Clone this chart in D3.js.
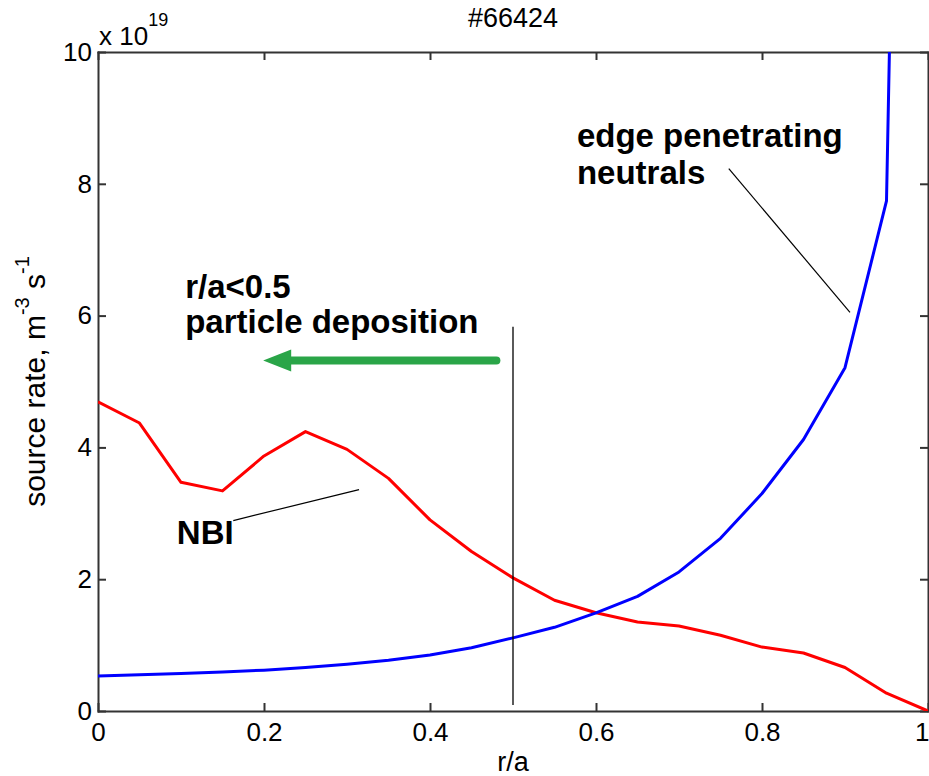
<!DOCTYPE html>
<html>
<head>
<meta charset="utf-8">
<script src="https://cdn.jsdelivr.net/npm/d3@7"></script>
<style>
  body { margin: 0; background: #fff; }
  svg { display: block; font-family: "Liberation Sans", Arial, Helvetica, sans-serif; }
  .axis path, .axis line { stroke: #333; stroke-width: 2px; }
  .axis text { font-size: 26px; fill: #000; }
  .note { font-size: 33px; font-weight: bold; fill: #000; }
</style>
</head>
<body>
<div id="chart"></div>
<script>
// radial grid r/a and source profiles (units of 1e19 m^-3 s^-1)
const ra = [0, 0.05, 0.1, 0.15, 0.2, 0.25, 0.3, 0.35, 0.4, 0.45, 0.5,
            0.55, 0.6, 0.65, 0.7, 0.75, 0.8, 0.85, 0.9, 0.95, 1];
const nbiSource = [4.69, 4.37, 3.47, 3.34, 3.87, 4.24, 3.97, 3.53, 2.90, 2.42, 2.02,
                   1.68, 1.49, 1.35, 1.29, 1.15, 0.97, 0.88, 0.66, 0.27, 0];
const edgeSource = [0.53, 0.55, 0.57, 0.59, 0.62, 0.66, 0.71, 0.77, 0.85, 0.96, 1.11,
                    1.27, 1.49, 1.74, 2.11, 2.62, 3.30, 4.12, 5.21, 7.74, 40];

const xTicks = [0, 0.2, 0.4, 0.6, 0.8, 1];
const yTicks = [0, 2, 4, 6, 8, 10];
const shotTitle = '#66424';

// annotations, placed in data space
const boundaryR = 0.5;
const boundarySpan = [0.09, 5.83];
const arrowFrom = [0.48, 5.32], arrowTo = [0.199, 5.32];
const nbiLeader = [[0.163, 2.89], [0.3145, 3.36]];
const edgeLeader = [[0.76, 8.23], [0.906, 6.05]];
const notes = [
  { text: 'r/a<0.5', r: 0.105, v: 6.27 },
  { text: 'particle deposition', r: 0.105, v: 5.74 },
  { text: 'NBI', r: 0.095, v: 2.53 },
  { text: 'edge penetrating', r: 0.577, v: 8.56 },
  { text: 'neutrals', r: 0.577, v: 8.0 }
];

const width = 929, height = 776;
const margin = { top: 52, right: 1, bottom: 65, left: 98 };

const svg = d3.select('#chart').append('svg')
  .attr('width', width)
  .attr('height', height);

const x = d3.scaleLinear().domain([0, 1]).range([margin.left, width - margin.right]);
const y = d3.scaleLinear().domain([0, 10]).range([height - margin.bottom, margin.top]);

svg.append('clipPath').attr('id', 'plot-clip')
  .append('rect')
  .attr('x', x(0)).attr('y', y(10))
  .attr('width', x(1) - x(0)).attr('height', y(0) - y(10));

// axes: matlab style box, ticks pointing inwards on every side
const fmt = d => d3.format('~g')(d);
const xAxis = svg.append('g').attr('class', 'axis')
  .attr('transform', `translate(0,${y(0)})`)
  .call(d3.axisBottom(x).tickValues(xTicks).tickFormat(fmt).tickSizeInner(-8).tickSizeOuter(0).tickPadding(12));
// last label sits on the window edge, keep it inside
xAxis.selectAll('.tick text').filter(d => d === 1)
  .attr('text-anchor', 'end').attr('x', 1);
svg.append('g').attr('class', 'axis')
  .attr('transform', `translate(0,${y(10)})`)
  .call(d3.axisTop(x).tickValues(xTicks).tickFormat('').tickSizeInner(-8).tickSizeOuter(0));
svg.append('g').attr('class', 'axis')
  .attr('transform', `translate(${x(0)},0)`)
  .call(d3.axisLeft(y).tickValues(yTicks).tickFormat(fmt).tickSizeInner(-8).tickSizeOuter(0).tickPadding(6));
svg.append('g').attr('class', 'axis')
  .attr('transform', `translate(${x(1)},0)`)
  .call(d3.axisRight(y).tickValues(yTicks).tickFormat('').tickSizeInner(-8).tickSizeOuter(0));
svg.selectAll('.axis .domain').attr('stroke-linecap', 'square');

// exponent above the y axis
const expo = svg.append('text')
  .attr('x', x(0) + 1).attr('y', 45)
  .attr('font-size', 26);
expo.append('tspan').text('x 10');
expo.append('tspan').attr('dy', -19).attr('font-size', 18).text('19');

// title and axis labels
svg.append('text')
  .attr('x', x(0.5)).attr('y', 27)
  .attr('text-anchor', 'middle').attr('font-size', 27)
  .text(shotTitle);

svg.append('text')
  .attr('x', x(0.5)).attr('y', 771)
  .attr('text-anchor', 'middle').attr('font-size', 27)
  .text('r/a');

const ylab = svg.append('text')
  .attr('transform', `translate(45,${y(5)}) rotate(-90)`)
  .attr('text-anchor', 'middle').attr('font-size', 30);
ylab.append('tspan').text('source rate, m');
ylab.append('tspan').attr('dy', -16).attr('font-size', 20).text('-3');
ylab.append('tspan').attr('dy', 16).text(' s');
ylab.append('tspan').attr('dy', -16).attr('font-size', 20).text('-1');

// profiles
const line = d3.line().x((d, i) => x(ra[i])).y(d => y(d));
const curves = svg.append('g').attr('clip-path', 'url(#plot-clip)');
curves.append('path')
  .datum(nbiSource)
  .attr('d', line)
  .attr('fill', 'none').attr('stroke', '#ff0000').attr('stroke-width', 3)
  .attr('stroke-linejoin', 'round');
curves.append('path')
  .datum(edgeSource)
  .attr('d', line)
  .attr('fill', 'none').attr('stroke', '#0000ff').attr('stroke-width', 3)
  .attr('stroke-linejoin', 'round');

// r/a = 0.5 marker line
svg.append('line')
  .attr('x1', x(boundaryR)).attr('x2', x(boundaryR))
  .attr('y1', y(boundarySpan[0])).attr('y2', y(boundarySpan[1]))
  .attr('stroke', '#000').attr('stroke-width', 1.3);

// leader lines
[nbiLeader, edgeLeader].forEach(seg => {
  svg.append('line')
    .attr('x1', x(seg[0][0])).attr('y1', y(seg[0][1]))
    .attr('x2', x(seg[1][0])).attr('y2', y(seg[1][1]))
    .attr('stroke', '#000').attr('stroke-width', 1.2);
});

// green arrow towards the core
const green = '#2aa548';
const ax0 = x(arrowFrom[0]), ay = y(arrowFrom[1]), ax1 = x(arrowTo[0]);
svg.append('line')
  .attr('x1', ax0).attr('y1', ay)
  .attr('x2', ax1 + 24).attr('y2', ay)
  .attr('stroke', green).attr('stroke-width', 8).attr('stroke-linecap', 'round');
svg.append('path')
  .attr('d', `M${ax1},${ay} L${ax1 + 28},${ay - 11} L${ax1 + 28},${ay + 11} Z`)
  .attr('fill', green);

svg.selectAll('.note')
  .data(notes)
  .enter().append('text')
  .attr('class', 'note')
  .attr('x', d => x(d.r))
  .attr('y', d => y(d.v))
  .text(d => d.text);
</script>
</body>
</html>
